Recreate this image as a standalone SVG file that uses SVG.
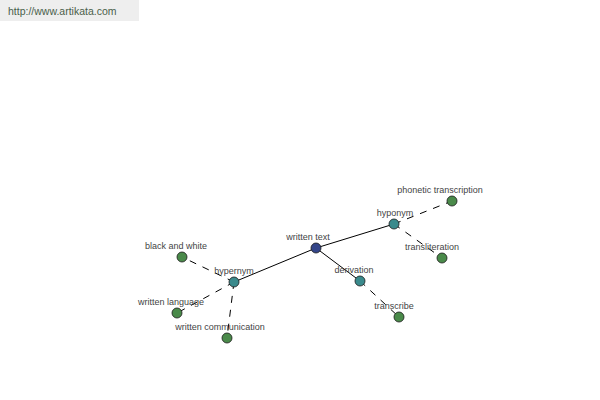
<svg xmlns="http://www.w3.org/2000/svg" width="600" height="400" viewBox="0 0 600 400">
<style>
.lbl{font-family:"Liberation Sans",Arial,sans-serif;font-size:9px;fill:#444;text-anchor:middle}
.node{stroke:#1a1a1a;stroke-width:0.8}
.leaf{fill:#4a8a4a}
.mid{fill:#3a8a8c}
.root{fill:#34468a}
.solid{stroke:#000;stroke-width:1;fill:none}
.dash{stroke:#000;stroke-width:1;fill:none;stroke-dasharray:7,7}
</style>
<rect x="0" y="0" width="139" height="21" fill="#eeeeee"/>
<text x="8" y="15" font-family="'Liberation Sans',Arial,sans-serif" font-size="10.5" fill="#4a604a">http://www.artikata.com</text>
<g id="connectors">
<line class="solid" x1="316" y1="248" x2="394" y2="224"/>
<line class="solid" x1="316" y1="248" x2="234" y2="282"/>
<line class="solid" x1="316" y1="248" x2="360" y2="281"/>
<line class="dash" x1="394" y1="224" x2="452" y2="201"/>
<line class="dash" x1="394" y1="224" x2="442" y2="258"/>
<line class="dash" x1="234" y1="282" x2="182" y2="257"/>
<line class="dash" x1="234" y1="282" x2="177" y2="313"/>
<line class="dash" x1="234" y1="282" x2="227" y2="338"/>
<line class="dash" x1="360" y1="281" x2="399" y2="317"/>
</g>
<g id="written-text"><circle class="node root" cx="316" cy="248" r="5"/><text class="lbl" x="308" y="240">written text</text></g>
<g id="hyponym"><circle class="node mid" cx="394" cy="224" r="5"/><text class="lbl" x="395" y="216">hyponym</text></g>
<g id="hypernym"><circle class="node mid" cx="234" cy="282" r="5"/><text class="lbl" x="234" y="274">hypernym</text></g>
<g id="derivation"><circle class="node mid" cx="360" cy="281" r="5"/><text class="lbl" x="354" y="273">derivation</text></g>
<g id="phonetic-transcription"><circle class="node leaf" cx="452" cy="201" r="5"/><text class="lbl" x="440" y="193">phonetic transcription</text></g>
<g id="transliteration"><circle class="node leaf" cx="442" cy="258" r="5"/><text class="lbl" x="432" y="250">transliteration</text></g>
<g id="black-and-white"><circle class="node leaf" cx="182" cy="257" r="5"/><text class="lbl" x="176" y="249">black and white</text></g>
<g id="written-language"><circle class="node leaf" cx="177" cy="313" r="5"/><text class="lbl" x="171" y="305">written language</text></g>
<g id="written-communication"><circle class="node leaf" cx="227" cy="338" r="5"/><text class="lbl" x="220" y="330">written communication</text></g>
<g id="transcribe"><circle class="node leaf" cx="399" cy="317" r="5"/><text class="lbl" x="394" y="309">transcribe</text></g>
</svg>
